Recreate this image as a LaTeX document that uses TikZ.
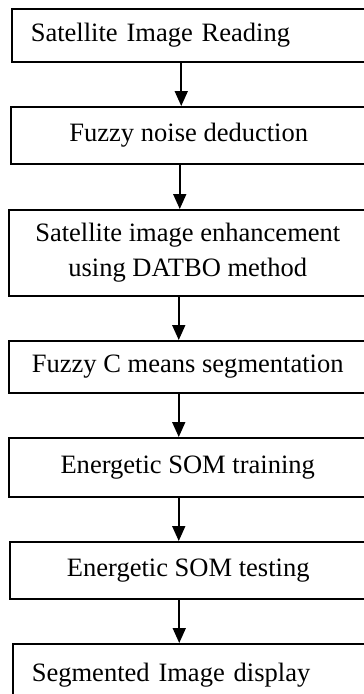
\documentclass[tikz,border=0pt]{standalone}
\usepackage{fontspec}
\setmainfont{Liberation Serif}
\usetikzlibrary{arrows.meta}

\tikzset{
	stage/.style={draw, line width=0.9pt, anchor=north west, align=center,
		inner sep=0pt, font=\fontsize{15.1}{19.9}\selectfont},
	stageleft/.style={stage, align=left, inner xsep=0.38cm},
	flow/.style={-{Triangle[width=0.26cm,length=0.3cm]}, line width=1pt}
}

\begin{document}
\begin{tikzpicture}[x=0.02cm,y=-0.02cm]
	
	% page frame, boxes run past right and bottom edge
	\useasboundingbox (0,0) rectangle (364,694);
	\clip (0,0) rectangle (364,694);
	
	\node[stageleft, text width=6.34cm, minimum height=1.06cm] (read) at (11,8)
		{Satellite Image Reading};
	\node[stage, minimum width=7.12cm, minimum height=1.14cm] (noise) at (10,106)
		{Fuzzy noise deduction};
	\node[stage, minimum width=7.16cm, minimum height=1.72cm] (enhance) at (8,209)
		{Satellite image enhancement\\using DATBO method};
	\node[stage, minimum width=7.16cm, minimum height=1.04cm] (fcm) at (8,340)
		{Fuzzy C means segmentation};
	\node[stage, minimum width=7.16cm, minimum height=1.18cm] (train) at (8,437)
		{Energetic SOM training};
	\node[stage, minimum width=7.14cm, minimum height=1.14cm] (test) at (9,541)
		{Energetic SOM testing};
	\node[stageleft, text width=6.32cm, minimum height=1.24cm] (display) at (12,643)
		{Segmented Image display};
	
	% arrows sit a little left of the box centres
	\draw[flow] ([xshift=-0.16cm]read.south)    -- ([xshift=-0.16cm]read.south |- noise.north);
	\draw[flow] ([xshift=-0.18cm]noise.south)   -- ([xshift=-0.18cm]noise.south |- enhance.north);
	\draw[flow] ([xshift=-0.18cm]enhance.south) -- ([xshift=-0.18cm]enhance.south |- fcm.north);
	\draw[flow] ([xshift=-0.18cm]fcm.south)     -- ([xshift=-0.18cm]fcm.south |- train.north);
	\draw[flow] ([xshift=-0.18cm]train.south)   -- ([xshift=-0.18cm]train.south |- test.north);
	\draw[flow] ([xshift=-0.18cm]test.south)    -- ([xshift=-0.18cm]test.south |- display.north);
	
\end{tikzpicture}
\end{document}
